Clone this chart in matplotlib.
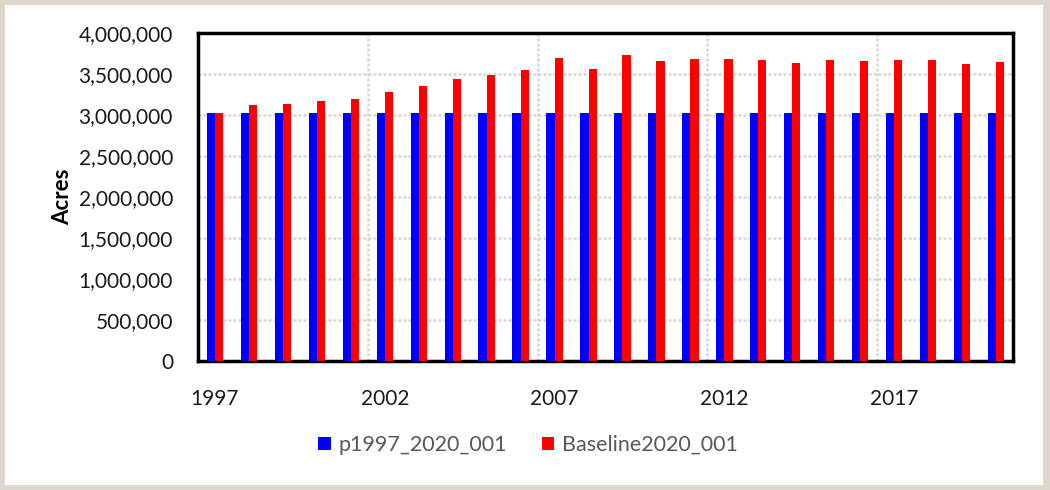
import numpy as np
import matplotlib
matplotlib.use("Agg")
import matplotlib.pyplot as plt
from matplotlib.patches import Rectangle
from matplotlib.ticker import FuncFormatter

plt.rcParams['font.family'] = ['Lato', 'DejaVu Sans']

# data
years = list(range(1997, 2021))
p1997_2020_001 = [3024000] * 24
baseline2020_001 = [3024000, 3118000, 3134000, 3171000, 3199000, 3280000,
                    3354000, 3435000, 3484000, 3545000, 3699000, 3557000,
                    3732000, 3654000, 3683000, 3683000, 3667000, 3634000,
                    3667000, 3654000, 3667000, 3667000, 3622000, 3650000]
shown_labels = [1997, 2002, 2007, 2012, 2017]

fig = plt.figure(figsize=(10.5, 4.9), dpi=100)
fig.patch.set_facecolor('#DDD8CB')
# white panel inside the beige frame
fig.patches.append(Rectangle((5 / 1050, 5 / 490), 1038 / 1050, 480 / 490,
                             transform=fig.transFigure, facecolor='white',
                             edgecolor='none', zorder=-5))

ax = fig.add_axes([198 / 1050, 1 - 361 / 490, (1013 - 198) / 1050, (361 - 33) / 490])
ax.set_zorder(3)
ax.set_facecolor('white')

x = np.arange(len(years))
w = 0.24
ax.bar(x - w / 2, p1997_2020_001, w, color='#0000FF', label='p1997_2020_001', zorder=3)
ax.bar(x + w / 2, baseline2020_001, w, color='#FF0000', label='Baseline2020_001', zorder=3)

ax.set_xlim(-0.5, len(years) - 0.5)
ax.set_ylim(0, 4000000)
ax.set_yticks(np.arange(0, 4000001, 500000))
ax.yaxis.set_major_formatter(FuncFormatter(lambda v, p: f'{int(v):,}'))

ax.set_xticks([years.index(y) for y in shown_labels])
ax.set_xticklabels([str(y) for y in shown_labels])
ax.set_xticks([4.5, 9.5, 14.5, 19.5], minor=True)

ax.tick_params(axis='both', length=0, labelsize=15, colors='#1a1a1a')
ax.tick_params(axis='y', pad=18)
ax.tick_params(axis='x', pad=20)
ax.tick_params(axis='x', which='minor', length=0)

ax.grid(axis='y', which='major', color='#D6D6D6', linestyle=(0, (1.2, 0.8)), linewidth=1.8, zorder=0)
ax.grid(axis='x', which='minor', color='#D6D6D6', linestyle=(0, (1.2, 0.8)), linewidth=1.8, zorder=0)

for s in ax.spines.values():
    s.set_linewidth(2.5)
    s.set_color('black')

ax.set_ylabel('Acres', fontsize=16, fontweight='bold', labelpad=4)

leg = fig.legend(loc='center', bbox_to_anchor=(528 / 1050, 1 - 445 / 490), ncol=2,
                 frameon=False, fontsize=15.5, handlelength=0.6, handleheight=0.6,
                 handletextpad=0.35, columnspacing=1.6)
for t in leg.get_texts():
    t.set_color('#595959')

fig.savefig('out.png', dpi=100, facecolor=fig.get_facecolor())
